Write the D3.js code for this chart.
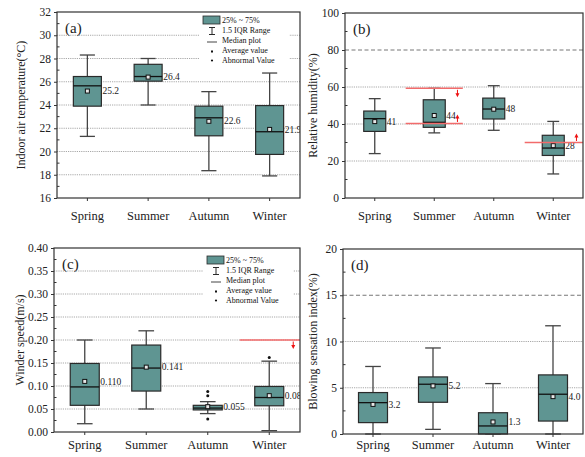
<!DOCTYPE html>
<html>
<head>
<meta charset="utf-8">
<script src="https://cdn.jsdelivr.net/npm/d3@7/dist/d3.min.js"></script>
<style>
  body { margin: 0; background: #fff; }
  svg { display: block; font-family: "Liberation Serif", "Times New Roman", serif; }
</style>
</head>
<body>
<svg id="chart" width="585" height="457"></svg>
<script>
var seasons = ["Spring", "Summer", "Autumn", "Winter"];

// (a) indoor air temperature
var tempLow = [21.3, 24.0, 18.35, 17.9];
var tempQ1 = [23.9, 26.05, 21.35, 19.75];
var tempMed = [25.65, 26.45, 22.9, 21.7];
var tempQ3 = [26.45, 27.5, 23.9, 23.95];
var tempHigh = [28.3, 28.0, 25.15, 26.75];
var tempMean = [25.2, 26.4, 22.6, 21.9];
var tempLabels = ["25.2", "26.4", "22.6", "21.9"];
var tempTicks = [16, 18, 20, 22, 24, 26, 28, 30, 32];

// (b) relative humidity
var humLow = [24, 35.2, 36.6, 13];
var humQ1 = [36, 38.2, 42.7, 23];
var humMed = [42.9, 40.9, 48.1, 27];
var humQ3 = [47, 53.1, 54, 33.9];
var humHigh = [53.7, 59.3, 60.7, 41.4];
var humMean = [41.3, 44.6, 48, 28.3];
var humLabels = ["41", "44", "48", "28"];
var humTicks = [0, 20, 40, 60, 80, 100];
var humLimits = [
  { season: "Summer", value: 59.3, dir: "down", toEdge: false },
  { season: "Summer", value: 40.3, dir: "up", toEdge: false },
  { season: "Winter", value: 30, dir: "up", toEdge: true }
];

// (c) wind speed
var windLow = [0.018, 0.05, 0.04, 0.003];
var windQ1 = [0.058, 0.089, 0.048, 0.057];
var windMed = [0.098, 0.139, 0.052, 0.075];
var windQ3 = [0.149, 0.189, 0.058, 0.099];
var windHigh = [0.2, 0.22, 0.066, 0.154];
var windMean = [0.110, 0.141, 0.055, 0.079];
var windLabels = ["0.110", "0.141", "0.055", "0.080"];
var windOutliers = [[], [], [0.088, 0.079, 0.028], [0.162]];
var windTicks = [0, 0.05, 0.10, 0.15, 0.20, 0.25, 0.30, 0.35, 0.40];
var windLimits = [
  { season: "Winter", value: 0.2, dir: "down", toEdge: true }
];

// (d) blowing sensation index
var blowLow = [0, 0.5, 0, 0];
var blowQ1 = [1.23, 3.43, 0, 1.4];
var blowMed = [3.39, 5.38, 0.87, 4.3];
var blowQ3 = [4.48, 6.17, 2.3, 6.39];
var blowHigh = [7.3, 9.3, 5.45, 11.7];
var blowMean = [3.2, 5.2, 1.3, 4.04];
var blowLabels = ["3.2", "5.2", "1.3", "4.0"];
var blowTicks = [0, 5, 10, 15, 20];

var legendItems = ["25% ~ 75%", "1.5 IQR Range", "Median plot", "Average value", "Abnormal Value"];

var boxFill = "#5f9592";
var darkLine = "#2a2a2a";

var svg = d3.select("#chart");

function drawPanel(p) {
  var w = p.right - p.left, h = p.bottom - p.top;
  var g = svg.append("g").attr("transform", "translate(" + p.left + "," + p.top + ")");

  var x = d3.scaleBand().domain(seasons).range([0, w]);
  var y = d3.scaleLinear().domain(p.domain).range([h, 0]);

  var clipId = "clip-" + p.id;
  g.append("clipPath").attr("id", clipId)
    .append("rect").attr("width", w).attr("height", h);

  // grid
  g.selectAll(".grid").data(p.ticks.filter(function(t) { return t > p.domain[0] && t < p.domain[1]; }))
    .enter().append("line")
    .attr("x1", 0).attr("x2", w)
    .attr("y1", function(d) { return y(d); }).attr("y2", function(d) { return y(d); })
    .attr("stroke", function(d) { return d === p.dashed ? "#777" : "#a8a8a8"; })
    .attr("stroke-width", 1)
    .attr("stroke-dasharray", function(d) { return d === p.dashed ? "4,2.5" : "1.2,1"; });

  // legend
  if (p.legend) {
    var lg = g.append("g").attr("transform", "translate(" + (w - p.legend[0]) + "," + p.legend[1] + ")");
    lg.append("rect").attr("x", -4).attr("y", -3).attr("width", 90).attr("height", 51).attr("fill", "#fff");
    lg.append("rect").attr("x", 0).attr("y", 0).attr("width", 17).attr("height", 8)
      .attr("fill", boxFill).attr("stroke", darkLine).attr("stroke-width", 0.8);
    var cx = 9;
    lg.append("path").attr("d", "M" + (cx - 3) + ",11.5H" + (cx + 3) + "M" + cx + ",11.5V18.5M" + (cx - 3) + ",18.5H" + (cx + 3))
      .attr("stroke", darkLine).attr("fill", "none");
    lg.append("line").attr("x1", cx - 5).attr("x2", cx + 5).attr("y1", 26).attr("y2", 26).attr("stroke", "#444");
    lg.append("rect").attr("x", cx - 1).attr("y", 34.5).attr("width", 2).attr("height", 2).attr("fill", "#111");
    lg.append("circle").attr("cx", cx).attr("cy", 44.5).attr("r", 1.1).attr("fill", "#111");
    lg.selectAll("text").data(legendItems).enter().append("text")
      .attr("x", 19).attr("y", function(d, i) { return 6.5 + i * 10; })
      .attr("font-size", 8).attr("fill", "#111").text(function(d) { return d; });
  }

  var bw = p.boxWidth;
  var cap = bw * 0.27;
  var boxes = g.append("g").selectAll("g").data(seasons).enter().append("g")
    .attr("transform", function(d) { return "translate(" + (x(d) + x.bandwidth() / 2) + ",0)"; });

  boxes.append("line").attr("x1", 0).attr("x2", 0)
    .attr("y1", function(d, i) { return y(p.high[i]); }).attr("y2", function(d, i) { return y(p.low[i]); })
    .attr("stroke", "#444").attr("stroke-width", 1.3);
  boxes.append("line").attr("x1", -cap).attr("x2", cap)
    .attr("y1", function(d, i) { return y(p.high[i]); }).attr("y2", function(d, i) { return y(p.high[i]); })
    .attr("stroke", "#444").attr("stroke-width", 1.3);
  boxes.append("line").attr("x1", -cap).attr("x2", cap)
    .attr("y1", function(d, i) { return y(p.low[i]); }).attr("y2", function(d, i) { return y(p.low[i]); })
    .attr("stroke", "#444").attr("stroke-width", 1.3);
  boxes.append("rect").attr("x", -bw / 2).attr("width", bw)
    .attr("y", function(d, i) { return y(p.q3[i]); })
    .attr("height", function(d, i) { return Math.max(1, y(p.q1[i]) - y(p.q3[i])); })
    .attr("fill", boxFill).attr("stroke", darkLine).attr("stroke-width", 1.2);
  boxes.append("line").attr("x1", -bw / 2).attr("x2", bw / 2)
    .attr("y1", function(d, i) { return y(p.med[i]); }).attr("y2", function(d, i) { return y(p.med[i]); })
    .attr("stroke", "#111").attr("stroke-width", 1.3);
  boxes.append("rect").attr("x", -2).attr("width", 4)
    .attr("y", function(d, i) { return y(p.mean[i]) - 2; }).attr("height", 4)
    .attr("fill", "#e8e8e8").attr("stroke", "#111").attr("stroke-width", 1);
  if (p.outliers) {
    boxes.each(function(d, i) {
      d3.select(this).selectAll("circle").data(p.outliers[i]).enter().append("circle")
        .attr("cx", 0).attr("cy", function(v) { return y(v); }).attr("r", 1.5).attr("fill", "#111");
    });
  }
  // value labels (clipped by frame like the original)
  g.append("g").attr("clip-path", "url(#" + clipId + ")")
    .selectAll("text").data(seasons).enter().append("text")
    .attr("x", function(d) { return x(d) + x.bandwidth() / 2 + bw / 2 + 1; })
    .attr("y", function(d, i) { return y(p.mean[i]) + 3.2; })
    .attr("font-size", 9.5).attr("fill", "#222")
    .text(function(d, i) { return p.labels[i]; });

  // limit lines and arrows
  if (p.limits) {
    p.limits.forEach(function(l) {
      var c = x(l.season) + x.bandwidth() / 2;
      var yy = y(l.value);
      var x2 = l.toEdge ? w : c + x.bandwidth() * 0.48;
      g.append("line").attr("x1", c - x.bandwidth() * 0.48).attr("x2", x2)
        .attr("y1", yy).attr("y2", yy).attr("stroke", "#f26b6b").attr("stroke-width", 1.5);
      var ax = c + x.bandwidth() * 0.39;
      var s = l.dir === "down" ? 1 : -1;
      g.append("line").attr("x1", ax).attr("x2", ax).attr("y1", yy + s * 1.5).attr("y2", yy + s * 7)
        .attr("stroke", "#ee1111").attr("stroke-width", 1);
      g.append("path")
        .attr("d", "M" + (ax - 2) + "," + (yy + s * 5) + "L" + (ax + 2) + "," + (yy + s * 5) + "L" + ax + "," + (yy + s * 9) + "Z")
        .attr("fill", "#ee1111");
    });
  }

  // frame and axes
  g.append("rect").attr("width", w).attr("height", h).attr("fill", "none")
    .attr("stroke", "#333").attr("stroke-width", 1.2);

  var yAxis = g.append("g").call(d3.axisLeft(y).tickValues(p.ticks).tickSize(3).tickFormat(p.format));
  yAxis.select(".domain").remove();
  yAxis.selectAll("line").attr("stroke", "#333");
  yAxis.selectAll("text").attr("font-size", 11.5).attr("font-family", "Liberation Serif, serif").attr("fill", "#222");

  var step = p.ticks[1] - p.ticks[0];
  var minor = p.ticks.slice(0, -1).map(function(t) { return t + step / 2; });
  g.selectAll(".minor").data(minor).enter().append("line")
    .attr("x1", 0).attr("x2", 2.5)
    .attr("y1", function(d) { return y(d); }).attr("y2", function(d) { return y(d); })
    .attr("stroke", "#333");

  var xAxis = g.append("g").attr("transform", "translate(0," + h + ")")
    .call(d3.axisBottom(x).tickSize(3).tickPadding(p.xPad));
  xAxis.select(".domain").remove();
  xAxis.selectAll("line").attr("stroke", "#333");
  xAxis.selectAll("text").attr("font-size", 12.5).attr("font-family", "Liberation Serif, serif").attr("fill", "#222");

  g.append("text").attr("x", 8).attr("y", 21).attr("font-size", 15).attr("fill", "#222").text(p.tag);

  svg.append("text")
    .attr("transform", "translate(" + p.titleX + "," + (p.top + h / 2) + ") rotate(-90)")
    .attr("text-anchor", "middle").attr("font-size", 12).attr("fill", "#222")
    .text(p.title);
}

drawPanel({
  id: "a", left: 57, top: 12, right: 300, bottom: 198,
  domain: [16, 32], ticks: tempTicks, format: d3.format("d"),
  low: tempLow, q1: tempQ1, med: tempMed, q3: tempQ3, high: tempHigh, mean: tempMean, labels: tempLabels,
  boxWidth: 28, tag: "(a)", title: "Indoor air temperature(\u00b0C)", titleX: 25,
  legend: [97, 4], xPad: 10
});

drawPanel({
  id: "b", left: 345, top: 13, right: 583, bottom: 198,
  domain: [0, 100], ticks: humTicks, format: d3.format("d"), dashed: 80,
  low: humLow, q1: humQ1, med: humMed, q3: humQ3, high: humHigh, mean: humMean, labels: humLabels,
  limits: humLimits, xPad: 10,
  boxWidth: 22, tag: "(b)", title: "Relative humidity(%)", titleX: 317
});

drawPanel({
  id: "c", left: 54, top: 248, right: 300, bottom: 432,
  domain: [0, 0.4], ticks: windTicks, format: d3.format(".2f"),
  low: windLow, q1: windQ1, med: windMed, q3: windQ3, high: windHigh, mean: windMean, labels: windLabels,
  outliers: windOutliers, limits: windLimits, xPad: 5,
  boxWidth: 29, tag: "(c)", title: "Winder speed(m/s)", titleX: 24,
  legend: [93, 8]
});

drawPanel({
  id: "d", left: 343, top: 249, right: 583, bottom: 434,
  domain: [0, 20], ticks: blowTicks, format: d3.format("d"), dashed: 15,
  low: blowLow, q1: blowQ1, med: blowMed, q3: blowQ3, high: blowHigh, mean: blowMean, labels: blowLabels,
  xPad: 3,
  boxWidth: 29, tag: "(d)", title: "Blowing sensation index(%)", titleX: 317
});
</script>
</body>
</html>
